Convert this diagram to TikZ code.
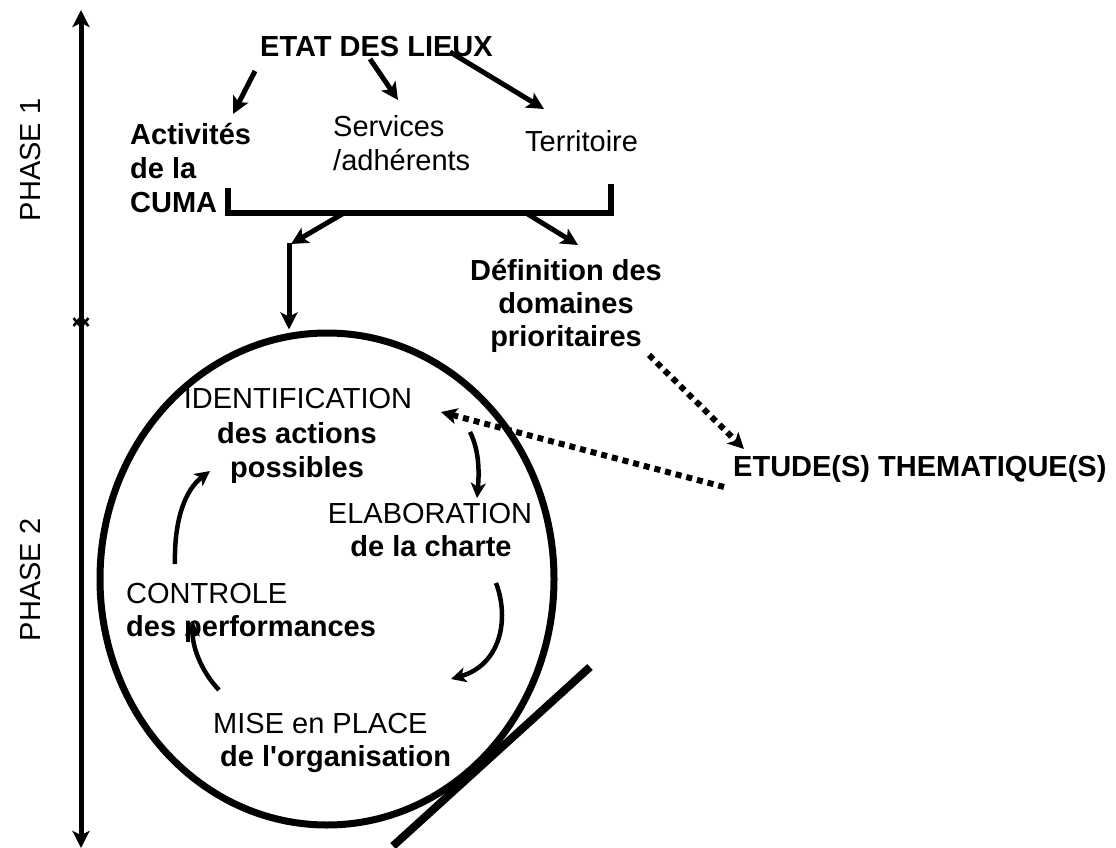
\documentclass[tikz,border=0pt]{standalone}
\usepackage{fontspec}
\setmainfont{Liberation Sans}
\usetikzlibrary{arrows.meta,shapes.geometric}
\begin{document}
\begin{tikzpicture}[x=1pt,y=-1pt,
  txt/.style={inner sep=0pt, font=\fontsize{29}{34}\selectfont},
  btxt/.style={inner sep=0pt, font=\fontsize{29}{34}\selectfont\bfseries},
  arr/.style={line width=5pt, -{Stealth[length=17pt,width=17pt,inset=4pt]}},
  carr/.style={line width=4.5pt, -{Stealth[length=15pt,width=15pt,inset=4pt]}},
  dots/.style={line width=6pt, dash pattern=on 6pt off 5pt, -{Stealth[length=16pt,width=16pt,inset=4pt]}},
  bigtip/.tip={Stealth[length=17pt,width=17pt,inset=4pt]},
  smalltip/.tip={Straight Barb[length=9pt,width=15pt,line width=2.5pt]},
]
\useasboundingbox (0,0) rectangle (1116,848);

% time axis
\coordinate (a1) at (81,10);
\coordinate (a2) at (81,329);
\coordinate (a3) at (81,315);
\coordinate (a4) at (81,848);
\draw[line width=5pt, bigtip-smalltip] (a1) -- (a2);
\draw[line width=5pt, smalltip-bigtip] (a3) -- (a4);
\node[txt, rotate=90] (p1) at (31,160) {PHASE 1};
\node[txt, rotate=90] (p2) at (31,580) {PHASE 2};

% phase 1
\node[btxt, anchor=base west] (etat) at (260,57) {ETAT DES LIEUX};
\node[btxt, anchor=base west] (act1) at (130,144) {Activités};
\node[btxt, anchor=base west] (act2) at (130,178) {de la};
\node[btxt, anchor=base west] (act3) at (130,212) {CUMA};
\node[txt, anchor=base west] (ser1) at (333,137) {Services};
\node[txt, anchor=base west] (ser2) at (333,170) {/adhérents};
\node[txt, anchor=base west] (ter) at (525,152) {Territoire};
\node[btxt, anchor=base] (def1) at (566,280) {Définition des};
\node[btxt, anchor=base] (def2) at (566,313) {domaines};
\node[btxt, anchor=base] (def3) at (566,346) {prioritaires};

\coordinate (e1s) at (255,71);  \coordinate (e1t) at (233,114);
\coordinate (e2s) at (370,59);  \coordinate (e2t) at (398,100);
\coordinate (e3s) at (450,52);  \coordinate (e3t) at (544,109);
\draw[arr] (e1s) -- (e1t);
\draw[arr] (e2s) -- (e2t);
\draw[arr] (e3s) -- (e3t);

\coordinate (br1) at (228,188);
\coordinate (br2) at (228,213);
\coordinate (br3) at (611,213);
\coordinate (br4) at (611,184);
\draw[line width=6pt] (br1) -- (br2) -- (br3) -- (br4);
\coordinate (b1s) at (344,213); \coordinate (b1t) at (291,244);
\coordinate (b2s) at (526,213); \coordinate (b2t) at (578,245);
\draw[arr] (b1s) -- (b1t);
\draw[arr] (b2s) -- (b2t);

% phase 2 cycle
\node[draw, ellipse, line width=7pt, inner sep=0pt, minimum width=454pt, minimum height=492pt] (cyc) at (327,579) {};
\coordinate (vs) at (289,243);
\draw[arr] (vs) -- (cyc.north -| vs);
\coordinate (tg1) at (393,846);
\coordinate (tg2) at (590,667);
\draw[line width=8pt] (tg1) -- (tg2);

\node[txt, anchor=base] (id1) at (298,408) {IDENTIFICATION};
\node[btxt, anchor=base] (id2) at (297,443) {des actions};
\node[btxt, anchor=base] (id3) at (297,477) {possibles};
\node[txt, anchor=base] (el1) at (430,523) {ELABORATION};
\node[btxt, anchor=base] (el2) at (431,556) {de la charte};
\node[txt, anchor=base west] (co1) at (126,603) {CONTROLE};
\node[btxt, anchor=base west] (co2) at (126,636) {des performances};
\node[txt, anchor=base west] (mi1) at (213,733) {MISE en PLACE};
\node[btxt, anchor=base west] (mi2) at (220,766) {de l\textquotesingle organisation};
\node[btxt, anchor=base west] (etu) at (733,476) {ETUDE(S) THEMATIQUE(S)};

\coordinate (c1s) at (470,432); \coordinate (c1t) at (477,498);
\coordinate (c2s) at (496,583); \coordinate (c2t) at (451,679);
\coordinate (c3s) at (219,690); \coordinate (c3t) at (193,621);
\coordinate (c4s) at (175,564); \coordinate (c4t) at (210,471);
\draw[carr] (c1s) .. controls (480,452) and (479,475) .. (c1t);
\draw[carr] (c2s) .. controls (510,620) and (500,665) .. (c2t);
\draw[carr] (c3s) .. controls (200,670) and (192,645) .. (c3t);
\draw[carr] (c4s) .. controls (174,520) and (185,490) .. (c4t);

\coordinate (d1s) at (649,355); \coordinate (d1t) at (744,449);
\coordinate (d2s) at (724,487); \coordinate (d2t) at (441,412);
\draw[dots] (d1s) -- (d1t);
\draw[dots] (d2s) -- (d2t);
\end{tikzpicture}
\end{document}
